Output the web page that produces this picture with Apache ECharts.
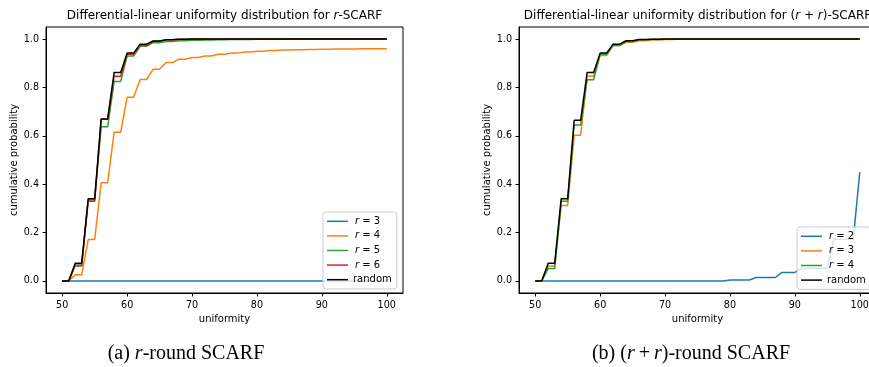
<!DOCTYPE html>
<html>
<head>
<meta charset="utf-8">
<script src="https://cdn.jsdelivr.net/npm/echarts@6/dist/echarts.min.js"></script>
<style>
html,body{margin:0;padding:0;background:#fff;overflow:hidden;}
#c{width:900px;height:367px;}
</style>
</head>
<body>
<div id="c"></div>
<script>
// ---------- data ----------
var uniformity = [];
for (var u = 50; u <= 100; u++) uniformity.push(u);

var xTicks = [50, 60, 70, 80, 90, 100];
var yTicks = [0, 0.2, 0.4, 0.6, 0.8, 1.0];

// (a) r-round SCARF, values at uniformity 50..100
var a_r3 = [0,0,0,0,0,0,0,0,0,0, 0,0,0,0,0,0,0,0,0,0, 0,0,0,0,0,0,0,0,0,0, 0,0,0,0,0,0,0,0,0,0, 0,0,0,0,0,0,0,0,0,0, 0];
var a_r4 = [0,0,0.025,0.025,0.171,0.171,0.406,0.406,0.615,0.615,
            0.759,0.759,0.833,0.833,0.875,0.875,0.903,0.903,0.917,0.917,
            0.924,0.924,0.930,0.930,0.937,0.937,0.942,0.942,0.947,0.947,
            0.950,0.950,0.953,0.953,0.955,0.955,0.956,0.956,0.957,0.957,
            0.958,0.958,0.959,0.959,0.959,0.959,0.960,0.960,0.960,0.960,
            0.960];
var a_r5 = [0,0,0.066,0.066,0.335,0.335,0.637,0.637,0.825,0.825,
            0.930,0.930,0.970,0.970,0.985,0.985,0.990,0.990,0.993,0.993,
            0.995,0.995,0.996,0.996,0.997,0.997,0.998,0.998,0.998,0.998,
            0.999,0.999,0.999,0.999,0.999,0.999,1,1,1,1,
            1,1,1,1,1,1,1,1,1,1, 1];
var a_r6 = [0,0,0.062,0.062,0.329,0.329,0.668,0.668,0.846,0.846,
            0.937,0.937,0.974,0.974,0.991,0.991,0.997,0.997,0.999,0.999,
            1,1,1,1,1,1,1,1,1,1, 1,1,1,1,1,1,1,1,1,1,
            1,1,1,1,1,1,1,1,1,1, 1];
var a_random = [0,0,0.073,0.073,0.340,0.340,0.670,0.670,0.862,0.862,
            0.942,0.942,0.979,0.979,0.992,0.992,0.997,0.997,0.999,0.999,
            1,1,1,1,1,1,1,1,1,1, 1,1,1,1,1,1,1,1,1,1,
            1,1,1,1,1,1,1,1,1,1, 1];

// (b) (r+r)-round SCARF
var b_r2 = [0,0,0,0,0,0,0,0,0,0, 0,0,0,0,0,0,0,0,0,0, 0,0,0,0,0,0,0,0,0,0,
            0.004,0.004,0.004,0.004,0.014,0.014,0.014,0.014,0.035,0.035,
            0.035,0.052,0.052,0.052,0.052,0.052,0.172,0.172,0.172,0.172,
            0.450];
var b_r3 = [0,0,0.062,0.062,0.312,0.312,0.602,0.602,0.846,0.846,
            0.932,0.932,0.974,0.974,0.987,0.987,0.993,0.993,0.996,0.996,
            0.998,0.998,0.999,0.999,1,1,1,1,1,1, 1,1,1,1,1,1,1,1,1,1,
            1,1,1,1,1,1,1,1,1,1, 1];
var b_r4 = [0,0,0.051,0.051,0.329,0.329,0.645,0.645,0.832,0.832,
            0.937,0.937,0.974,0.974,0.990,0.990,0.997,0.997,0.999,0.999,
            1,1,1,1,1,1,1,1,1,1, 1,1,1,1,1,1,1,1,1,1,
            1,1,1,1,1,1,1,1,1,1, 1];
var b_random = [0,0,0.073,0.073,0.340,0.340,0.664,0.664,0.862,0.862,
            0.942,0.942,0.979,0.979,0.993,0.993,0.998,0.998,0.999,0.999,
            1,1,1,1,1,1,1,1,1,1, 1,1,1,1,1,1,1,1,1,1,
            1,1,1,1,1,1,1,1,1,1, 1];

// ---------- chart ----------
var SANS = 'DejaVu Sans';
var FS = 10;     // axis names, legend
var TFS = 9.6;   // tick labels
var C = { blue:'#1f77b4', orange:'#ff7f0e', green:'#2ca02c', red:'#d62728', black:'#000000' };

function pairs(ys){ return uniformity.map(function(x,i){ return [x, ys[i]]; }); }

var labels = {
  a3:'{i|r}{n| = 3}', a4:'{i|r}{n| = 4}', a5:'{i|r}{n| = 5}', a6:'{i|r}{n| = 6}', arandom:'{n|random}',
  b2:'{i|r}{n| = 2}', b3:'{i|r}{n| = 3}', b4:'{i|r}{n| = 4}', brandom:'{n|random}'
};

function line(name, data, color, idx){
  return { name:name, type:'line', xAxisIndex:idx, yAxisIndex:idx, data:pairs(data),
    showSymbol:false, symbol:'none', animation:false,
    lineStyle:{ color:color, width:1.5 }, itemStyle:{ color:color } };
}

function xAx(idx){
  return { gridIndex:idx, type:'value', min:47.5, max:102.5,
    name:'uniformity', nameLocation:'middle', nameGap:20,
    nameTextStyle:{ fontFamily:SANS, fontSize:FS, color:'#000' },
    axisLine:{ show:true, onZero:false, lineStyle:{ color:'#000', width:1 } },
    axisTick:{ show:true, length:3.5, lineStyle:{ color:'#000' }, customValues:xTicks },
    axisLabel:{ fontFamily:SANS, fontSize:TFS, color:'#000', margin:7, customValues:xTicks },
    splitLine:{ show:false } };
}
function yAx(idx){
  return { gridIndex:idx, type:'value', min:-0.05, max:1.05,
    name:'cumulative probability', nameLocation:'middle', nameGap:27,
    nameTextStyle:{ fontFamily:SANS, fontSize:FS, color:'#000' },
    axisLine:{ show:true, onZero:false, lineStyle:{ color:'#000', width:1 } },
    axisTick:{ show:true, length:3.5, lineStyle:{ color:'#000' }, customValues:yTicks },
    axisLabel:{ fontFamily:SANS, fontSize:TFS, color:'#000', margin:7, customValues:yTicks,
      formatter:function(v){ return v.toFixed(1); } },
    splitLine:{ show:false } };
}

function legend(data, left, top){
  return { data:data, orient:'vertical', left:left, top:top,
    padding:[2,5,2,4], itemGap:0, itemWidth:21, itemHeight:1.5, icon:'rect',
    backgroundColor:'rgba(255,255,255,0.8)', borderColor:'#cccccc', borderWidth:1, borderRadius:3,
    selectedMode:false,
    formatter:function(n){ return labels[n]; },
    textStyle:{ fontFamily:SANS, fontSize:FS, color:'#000', lineHeight:14.6,
      rich:{ i:{ fontFamily:SANS, fontStyle:'italic', fontSize:FS, lineHeight:14.6, color:'#000', padding:[0,0,0,2] },
             n:{ fontFamily:SANS, fontSize:FS, lineHeight:14.6, color:'#000' } } } };
}

var titleRich = { n:{ fontFamily:SANS, fontSize:12, fill:'#000' },
                  i:{ fontFamily:SANS, fontStyle:'italic', fontSize:12, fill:'#000' } };
var capRich = { n:{ fontFamily:'Liberation Serif', fontSize:20, fill:'#000' },
                i:{ fontFamily:'Liberation Serif', fontStyle:'italic', fontSize:20, fill:'#000' } };

var chart = echarts.init(document.getElementById('c'), null, { renderer:'canvas' });
chart.setOption({
  animation:false,
  backgroundColor:'#fff',
  grid:[
    { left:46, top:27, width:357, height:266, show:true, borderColor:'#000', borderWidth:1, backgroundColor:'transparent' },
    { left:519, top:27, width:357, height:266, show:true, borderColor:'#000', borderWidth:1, backgroundColor:'transparent' }
  ],
  xAxis:[ xAx(0), xAx(1) ],
  yAxis:[ yAx(0), yAx(1) ],
  legend:[
    legend(['a3','a4','a5','a6','arandom'], 323, 212),
    legend(['b2','b3','b4','brandom'], 797, 227)
  ],
  series:[
    line('a3', a_r3, C.blue, 0),
    line('a4', a_r4, C.orange, 0),
    line('a5', a_r5, C.green, 0),
    line('a6', a_r6, C.red, 0),
    line('arandom', a_random, C.black, 0),
    line('b2', b_r2, C.blue, 1),
    line('b3', b_r3, C.orange, 1),
    line('b4', b_r4, C.green, 1),
    line('brandom', b_random, C.black, 1)
  ],
  graphic:[
    { type:'text', x:224.5, y:16, style:{ text:'{n|Differential-linear uniformity distribution for }{i|r}{n|-SCARF}',
      rich:titleRich, align:'center', verticalAlign:'middle' } },
    { type:'text', x:697.5, y:16, style:{ text:'{n|Differential-linear uniformity distribution for (}{i|r}{n| + }{i|r}{n|)-SCARF}',
      rich:titleRich, align:'center', verticalAlign:'middle' } },
    { type:'text', x:186, y:354, style:{ text:'{n|(a) }{i|r}{n|-round SCARF}', rich:capRich, align:'center', verticalAlign:'middle' } },
    { type:'text', x:691, y:354, style:{ text:'{n|(b) (}{i|r}{n|\u2009+\u2009}{i|r}{n|)-round SCARF}', rich:capRich, align:'center', verticalAlign:'middle' } }
  ]
});
</script>
</body>
</html>
